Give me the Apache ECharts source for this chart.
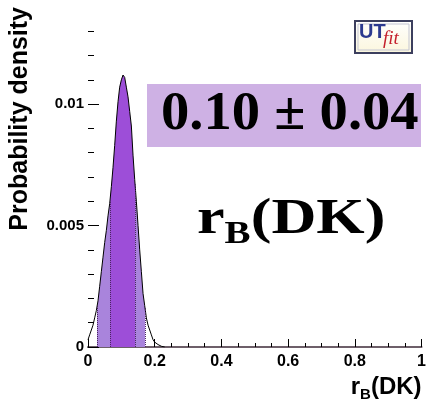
<!DOCTYPE html>
<html>
<head>
<meta charset="utf-8">
<script src="https://cdn.jsdelivr.net/npm/echarts@6/dist/echarts.min.js"></script>
<style>
  html, body { margin: 0; padding: 0; background: #fff; }
  #chart { width: 429px; height: 406px; }
</style>
</head>
<body>
<div id="chart"></div>
<script>
// Posterior density of r_B(DK), sampled along the x axis
const rB = [0.000, 0.005, 0.010, 0.015, 0.020, 0.025, 0.030, 0.035, 0.040, 0.045,
            0.050, 0.055, 0.060, 0.065, 0.070, 0.075, 0.080, 0.085, 0.090, 0.095,
            0.100, 0.105, 0.110, 0.115, 0.120, 0.125, 0.130, 0.135, 0.140, 0.145,
            0.150, 0.155, 0.160, 0.165, 0.170, 0.175, 0.180, 0.185, 0.190, 0.195,
            0.200, 0.210, 0.220, 0.230];
const density = [0.0003, 0.0005, 0.0007, 0.0009, 0.0012, 0.0015, 0.0019, 0.0025, 0.0031, 0.0037,
                 0.0043, 0.0048, 0.0054, 0.0059, 0.0066, 0.0074, 0.0083, 0.0093, 0.0101, 0.0107,
                 0.0110, 0.0112, 0.0111, 0.0107, 0.0103, 0.0097, 0.0091, 0.0079, 0.0069, 0.0060,
                 0.0050, 0.0040, 0.0031, 0.0022, 0.0017, 0.0012, 0.0009, 0.0007, 0.0005, 0.0003,
                 0.0002, 0.0001, 0.00003, 0.0];

// 68% and 95% probability intervals
const band68 = [0.066, 0.142];
const band95 = [0.028, 0.172];
// curve height where each interval edge is drawn (95 lo, 68 lo, 68 hi, 95 hi)
const edgeX = [0.028, 0.066, 0.142, 0.172];
const edgeTop = [0.0017, 0.0060, 0.0067, 0.0016];

const xTicks = [0, 0.2, 0.4, 0.6, 0.8, 1];
const yMajorTicks = [0, 0.005, 0.01];
const yMinorTicks = [0.001, 0.002, 0.003, 0.004, 0.006, 0.007, 0.008, 0.009, 0.011, 0.012, 0.013];

const resultText = '0.10 ± 0.04';

const dark = '#9d4ed8';
const light = '#a984dc';

const curve = rB.map((x, i) => [x, density[i]]);

const chart = echarts.init(document.getElementById('chart'), null, { renderer: 'canvas' });

const sansBold = { fontFamily: 'Liberation Sans, Arial, sans-serif', fontWeight: 'bold', color: '#000' };
const serifBold = '"Liberation Serif", "Times New Roman", serif';

chart.setOption({
  animation: false,
  backgroundColor: '#fff',
  grid: { left: 88, right: 6, top: 7, bottom: 59 },
  xAxis: [{
    type: 'value', min: 0, max: 1, interval: 0.2, position: 'bottom',
    axisLine: { show: true, lineStyle: { color: '#000', width: 1 } },
    axisTick: { show: true, inside: true, length: 8, lineStyle: { color: '#000' } },
    minorTick: { show: true, splitNumber: 4, length: 4, lineStyle: { color: '#000' } },
    splitLine: { show: false },
    axisLabel: {
      ...sansBold, fontSize: 16, margin: 7,
      customValues: xTicks,
      formatter: v => String(v)
    },
    name: '{r|r}{s|B}{r|(DK)}',
    nameLocation: 'end', nameGap: 0,
    nameTextStyle: {
      align: 'right', verticalAlign: 'top', padding: [25, 0, 0, 0],
      rich: {
        r: { ...sansBold, fontSize: 24 },
        s: { ...sansBold, fontSize: 15, padding: [15, 0, 0, 0] }
      }
    }
  }, {
    type: 'value', min: 0, max: 1, position: 'top',
    axisLine: { show: true, lineStyle: { color: '#6d5f69', width: 2 } },
    axisTick: { show: false }, axisLabel: { show: false }, splitLine: { show: false }
  }],
  yAxis: [{
    type: 'value', min: 0, max: 0.014, position: 'left',
    axisLine: { show: false },
    axisTick: { show: true, inside: true, length: 11, customValues: yMajorTicks, lineStyle: { color: '#000' } },
    splitLine: { show: false },
    axisLabel: {
      ...sansBold, fontSize: 15, margin: 4,
      customValues: yMajorTicks,
      formatter: v => String(v)
    },
    name: 'Probability density',
    nameLocation: 'end', nameRotate: 90, nameGap: 0,
    nameTextStyle: { ...sansBold, fontSize: 25, align: 'right', verticalAlign: 'bottom', padding: [0, 0, 55, 0] }
  }, {
    type: 'value', min: 0, max: 0.014, position: 'left',
    axisLine: { show: false },
    axisTick: { show: true, inside: true, length: 6, customValues: yMinorTicks, lineStyle: { color: '#000' } },
    axisLabel: { show: false }, splitLine: { show: false }
  }],
  visualMap: {
    show: false, type: 'piecewise', dimension: 0, seriesIndex: 0,
    pieces: [
      { lt: band95[0], color: 'rgba(255,255,255,0)' },
      { gte: band95[0], lt: band68[0], color: light },
      { gte: band68[0], lt: band68[1], color: dark },
      { gte: band68[1], lt: band95[1], color: light },
      { gte: band95[1], color: 'rgba(255,255,255,0)' }
    ]
  },
  series: [{
    type: 'line', data: curve, showSymbol: false, smooth: false,
    lineStyle: { width: 0 },
    areaStyle: { opacity: 1 },
    z: 2
  }, {
    type: 'line', data: curve, showSymbol: false, smooth: false,
    lineStyle: { color: '#000', width: 1 },
    itemStyle: { color: '#000' },
    z: 4,
    markLine: {
      silent: true, symbol: 'none', label: { show: false },
      lineStyle: { type: 'dotted', color: '#4a2660', width: 1 },
      data: edgeX.map((x, i) => [{ coord: [x, 0] }, { coord: [x, edgeTop[i]] }])
    }
  }],
  graphic: [
    // result box
    {
      type: 'rect', x: 147, y: 84, z: 10,
      shape: { width: 274, height: 63 },
      style: { fill: '#ceb1e4' }
    },
    {
      type: 'text', x: 161, y: 87, z: 11, scaleX: 1.03,
      style: {
        text: resultText,
        font: 'bold 55px ' + serifBold,
        fill: '#000'
      }
    },
    // variable name
    {
      type: 'text', x: 197, y: 188, z: 11, scaleX: 1.22,
      style: {
        text: '{r|r}{s|B}{r|(DK)}',
        rich: {
          r: { font: 'bold 51px ' + serifBold, fill: '#000' },
          s: { font: 'bold 32px ' + serifBold, fill: '#000', padding: [31, 0, 0, 0] }
        }
      }
    },
    // logo
    {
      type: 'group', x: 355, y: 21, z: 10,
      children: [
        {
          type: 'rect', shape: { x: 0, y: 0, width: 57, height: 32 },
          style: {
            fill: new echarts.graphic.LinearGradient(0, 0, 0, 1, [
              { offset: 0, color: '#ffffff' }, { offset: 1, color: '#fbf6dc' }
            ]),
            stroke: '#3c3f5e', lineWidth: 2
          }
        },
        {
          type: 'rect', shape: { x: 3, y: 3, width: 51, height: 26 },
          style: { fill: 'none', stroke: '#c3c5d2', lineWidth: 1 }
        },
        {
          type: 'text', x: 4, y: 1,
          style: { text: 'UT', font: 'bold 20px "Liberation Sans", Arial, sans-serif', fill: '#2c3a8f' }
        },
        {
          type: 'text', x: 28, y: 8,
          style: { text: 'fit', font: 'italic 19px "Liberation Serif", "Times New Roman", serif', fill: '#c4202c' }
        }
      ]
    }
  ]
});
</script>
</body>
</html>
